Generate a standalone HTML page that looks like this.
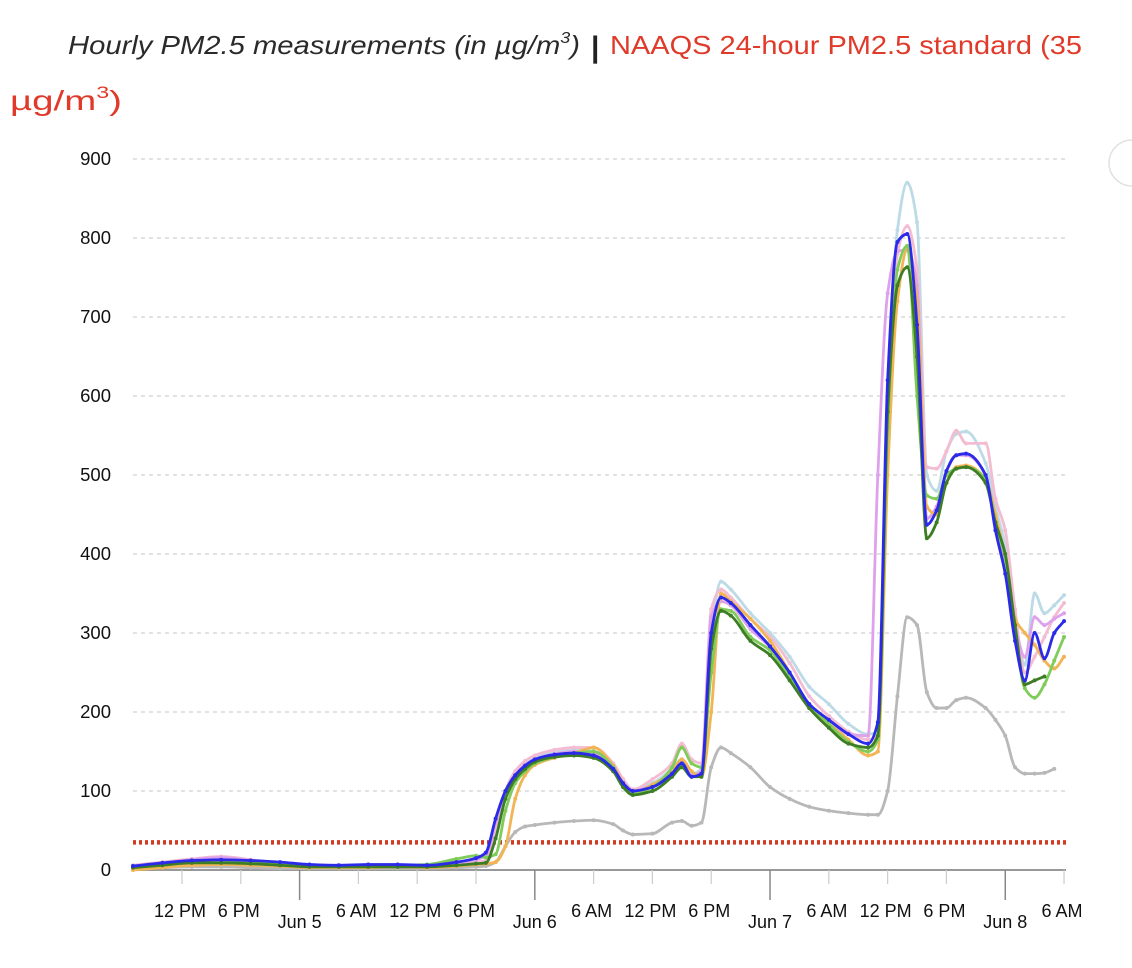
<!DOCTYPE html>
<html><head><meta charset="utf-8"><style>
html,body{margin:0;padding:0;background:#fff;width:1132px;height:968px;overflow:hidden;font-family:"Liberation Sans",sans-serif}
svg{display:block}
</style></head><body>
<svg id="chart" width="1132" height="968">
<text x="68" y="54" font-size="26" font-style="italic" fill="#2a2a2a" textLength="512" lengthAdjust="spacingAndGlyphs">Hourly PM2.5 measurements (in µg/m<tspan dy="-11" font-size="16">3</tspan><tspan dy="11">)</tspan></text>
<text x="591" y="57" font-size="30" font-weight="bold" fill="#222">|</text>
<text x="610" y="54" font-size="26" fill="#e03a2a" textLength="472" lengthAdjust="spacingAndGlyphs">NAAQS 24-hour PM2.5 standard (35</text>
<text x="10" y="110" font-size="28" fill="#e03a2a" textLength="112" lengthAdjust="spacingAndGlyphs">µg/m<tspan dy="-12" font-size="17">3</tspan><tspan dy="12">)</tspan></text>
<path d="M1132 140 a22 22 0 0 0 0 46" fill="none" stroke="#e2e2e2" stroke-width="1.5"/>
<g id="grid"></g><g id="axes"></g><g id="series"></g>
</svg>
<script>
const T=[7,10,13,16,19,22,25,28,31,34,37,40,42,43,44,45,46,47,48,50,52,54,56,57,58,60,62,63,64,65,66,67,68,70,72,74,76,78,80,82,83,84,85,86,87,88,89,90,91,92,94,95,96,97,98,99,100,101,102];
const gray=[2,3,4,4,3,2,2,2,2,2,2,3,4,5,10,30,48,55,57,60,62,63,58,50,45,46,60,62,56,60,130,155,148,130,105,90,80,75,72,70,70,100,220,320,310,225,205,205,215,218,205,190,170,130,122,122,123,128,null];
const lightBlue=[4,7,10,12,10,7,5,5,5,5,5,7,9,10,40,95,120,135,143,150,152,150,130,112,102,110,128,140,122,128,300,365,355,325,300,270,232,210,185,172,175,600,810,870,820,500,480,530,552,555,515,460,410,320,260,350,325,335,348];
const pink=[6,10,14,17,13,9,6,6,6,6,6,8,10,12,55,100,125,138,145,152,155,155,135,115,102,115,135,160,140,135,330,355,345,318,295,262,220,195,175,165,170,600,780,815,760,510,508,530,556,540,540,470,430,330,250,270,295,320,338];
const violet=[5,9,13,16,12,9,6,5,6,6,6,9,13,18,60,100,120,133,140,147,150,147,128,110,100,108,124,138,120,125,320,340,335,305,282,248,210,190,172,170,500,730,783,785,740,445,460,505,525,525,500,435,385,310,270,320,310,318,325];
const orange=[0,3,6,7,6,5,3,3,3,4,3,5,7,8,10,30,90,120,133,142,148,155,132,110,98,108,125,140,125,118,200,350,340,318,290,250,205,185,165,145,150,500,720,785,720,460,450,490,510,512,495,450,395,318,300,285,265,255,270];
const lightGreen=[4,7,10,11,10,7,5,5,6,6,7,14,18,16,20,75,110,125,135,143,148,150,130,108,97,105,130,155,135,130,250,330,328,295,278,245,210,185,162,150,165,560,760,790,600,474,470,500,508,510,495,440,395,300,230,218,235,265,295];
const darkGreen=[3,6,9,9,8,6,4,4,4,4,4,6,8,9,40,90,115,128,137,143,145,142,125,105,95,100,118,130,118,118,280,328,322,290,272,240,205,180,160,155,170,580,740,763,650,420,440,490,508,510,490,440,400,310,235,240,245,null,null];
const blue=[5,9,12,13,12,10,7,6,7,7,6,10,15,22,65,100,120,132,140,146,148,145,128,110,100,105,122,135,118,122,300,345,338,310,283,250,210,190,172,160,187,620,795,805,690,437,455,505,525,527,500,430,375,290,240,300,268,300,315];
const yTicks=[0,100,200,300,400,500,600,700,800,900];
const hourTicks=[12,18,30,36,42,54,60,66,78,84,90,102];
const hourLabels=["12 PM","6 PM","6 AM","12 PM","6 PM","6 AM","12 PM","6 PM","6 AM","12 PM","6 PM","6 AM"];
const dayTicks=[24,48,72,96];
const dayLabels=["Jun  5","Jun  6","Jun  7","Jun  8"];
const standardValue=35;

const NS="http://www.w3.org/2000/svg";
const X0=133,X1=1066,Y0=870,Y1=159;
const xDomain=[7,102.2], yDomain=[0,900];
function xs(h){return X0+(h-xDomain[0])/(xDomain[1]-xDomain[0])*(X1-X0);}
function ys(v){return Y0-(v-yDomain[0])/(yDomain[1]-yDomain[0])*(Y0-Y1);}
function mk(tag,attrs,parent){const e=document.createElementNS(NS,tag);for(const k in attrs)e.setAttribute(k,attrs[k]);parent.appendChild(e);return e;}
const grid=document.getElementById('grid'),axes=document.getElementById('axes'),ser=document.getElementById('series');
yTicks.forEach(v=>{
  if(v>0){const l=mk('line',{x1:X0,x2:X1,y1:ys(v),y2:ys(v),stroke:'#d0d0d0','stroke-width':1.2,'stroke-dasharray':'4,4'},grid);
  
  }
  const t=mk('text',{x:111,y:ys(v)+6,'text-anchor':'end','font-size':18.5,fill:'#111'},axes);t.textContent=v;
  
  
});
const ax=mk('line',{x1:X0,x2:X1,y1:Y0,y2:Y0,stroke:'#999','stroke-width':2},axes);


hourTicks.forEach((h,i)=>{
  const tk=mk('line',{x1:xs(h),x2:xs(h),y1:Y0,y2:Y0+14,stroke:'#ccc','stroke-width':1.2},axes);
  
  
  const t=mk('text',{x:xs(h)-2,y:917,'text-anchor':'middle','font-size':18,fill:'#111'},axes);t.textContent=hourLabels[i];
  
  
});
dayTicks.forEach((h,i)=>{
  const tk=mk('line',{x1:xs(h),x2:xs(h),y1:Y0,y2:Y0+30,stroke:'#888','stroke-width':1.5},axes);
  
  
  const t=mk('text',{x:xs(h),y:928,'text-anchor':'middle','font-size':18,fill:'#111','xml:space':'preserve'},axes);t.textContent=dayLabels[i];
  
  
});
const std=mk('line',{x1:X0,x2:X1,y1:ys(standardValue),y2:ys(standardValue),stroke:'#d23a22','stroke-width':4.5,'stroke-dasharray':'3,3'},ser);



function monotone(pts){
  const n=pts.length;if(n<2)return '';
  const dx=[],m=[],s=[];
  for(let i=0;i<n-1;i++){dx[i]=pts[i+1][0]-pts[i][0];s[i]=(pts[i+1][1]-pts[i][1])/dx[i];}
  m[0]=s[0];m[n-1]=s[n-2];
  for(let i=1;i<n-1;i++){m[i]=(s[i-1]*s[i]<=0)?0:3*(dx[i-1]+dx[i])/((2*dx[i]+dx[i-1])/s[i-1]+(dx[i]+2*dx[i-1])/s[i]);}
  let d='M'+pts[0][0]+','+pts[0][1];
  for(let i=0;i<n-1;i++){const h=dx[i]/3;
    d+='C'+(pts[i][0]+h)+','+(pts[i][1]+m[i]*h)+' '+(pts[i+1][0]-h)+','+(pts[i+1][1]-m[i+1]*h)+' '+pts[i+1][0]+','+pts[i+1][1];}
  return d;
}
function drawSeries(vals,color,name,op){
  const g=mk('g',{opacity:op},ser);
  
  
  const pts=[];vals.forEach((v,i)=>{if(v!==null)pts.push([xs(T[i]),ys(v)]);});
  const p=mk('path',{d:monotone(pts),fill:'none',stroke:color,'stroke-width':2.8,'stroke-linejoin':'round'},g);
  
  
  pts.forEach(q=>{const c=mk('circle',{cx:q[0],cy:q[1],r:2,fill:color},g);
    
    });
}
drawSeries(gray,'#b8b8b8','series-gray',1);
drawSeries(lightBlue,'#bcdbe6','series-light-blue',1);
drawSeries(pink,'#f3bcd2','series-pink',1);
drawSeries(violet,'#dea2ec','series-violet',1);
drawSeries(orange,'#f2b455','series-orange',1);
drawSeries(lightGreen,'#7fcc5a','series-light-green',1);
drawSeries(darkGreen,'#3d7d25','series-dark-green',1);
drawSeries(blue,'#2a2ae8','series-blue',1);
</script>
</body></html>
